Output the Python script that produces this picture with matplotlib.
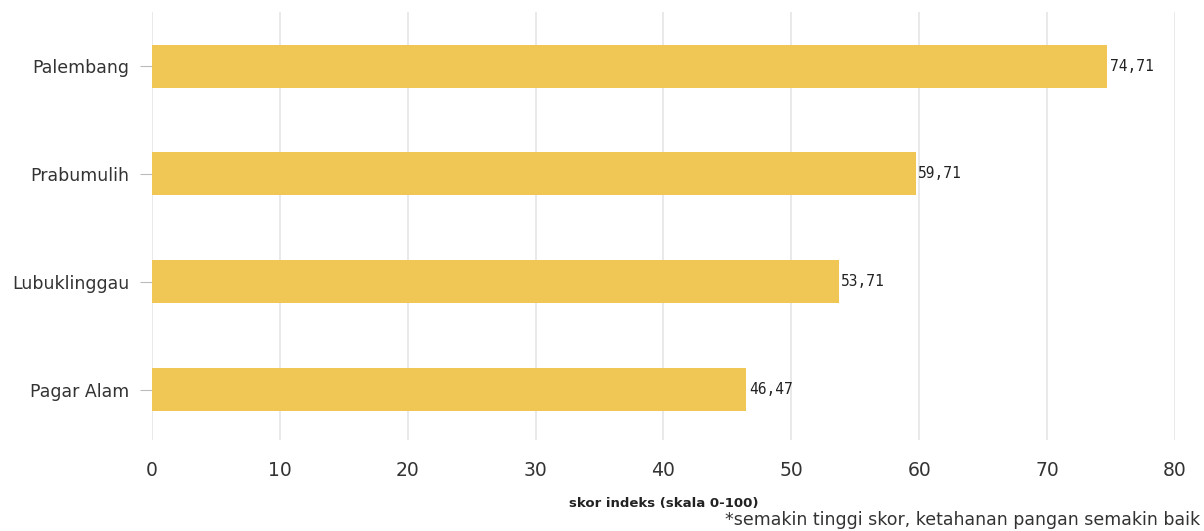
import matplotlib

matplotlib.use("Agg")
import matplotlib.pyplot as plt

# values
cities = ["Palembang", "Prabumulih", "Lubuklinggau", "Pagar Alam"]
scores = [74.71, 59.71, 53.71, 46.47]
x_ticks = [0, 10, 20, 30, 40, 50, 60, 70, 80]

BAR_COLOR = "#F0C755"
GRID_COLOR = "#E5E5E5"

fig = plt.figure(figsize=(12.04, 5.31), dpi=100)
ax = fig.add_axes((0.1262, 0.171, 0.8497, 0.806))

pos = list(range(len(cities)))
ax.barh(pos, scores, height=0.4, color=BAR_COLOR, zorder=2)
for y, v in zip(pos, scores):
    label = f"{v:.2f}".replace(".", ",")
    ax.text(v + 0.2, y, label, va="center", ha="left", fontsize=10.5,
            family="DejaVu Sans Mono", color="#222222", zorder=3)

ax.set_xlim(0, 80)
ax.set_ylim(3.47, -0.5)
ax.set_xticks(x_ticks)
ax.set_yticks(pos)
ax.set_yticklabels(cities)
ax.grid(axis="x", color=GRID_COLOR, linewidth=1.2, zorder=0)
for spine in ax.spines.values():
    spine.set_visible(False)

ax.tick_params(axis="x", length=0, pad=15, labelsize=13.5, labelcolor="#333333")
ax.tick_params(axis="y", length=9, width=0.8, color="#BBBBBB", pad=7,
               labelsize=12.5, labelcolor="#333333")

ax.set_xlabel("skor indeks (skala 0-100)", fontsize=9.5, fontweight="bold",
              labelpad=12, color="#222222")
fig.text(0.997, 0.004, "*semakin tinggi skor, ketahanan pangan semakin baik",
         ha="right", va="bottom", fontsize=12.5, color="#333333")

fig.savefig("out.png", dpi=100)
